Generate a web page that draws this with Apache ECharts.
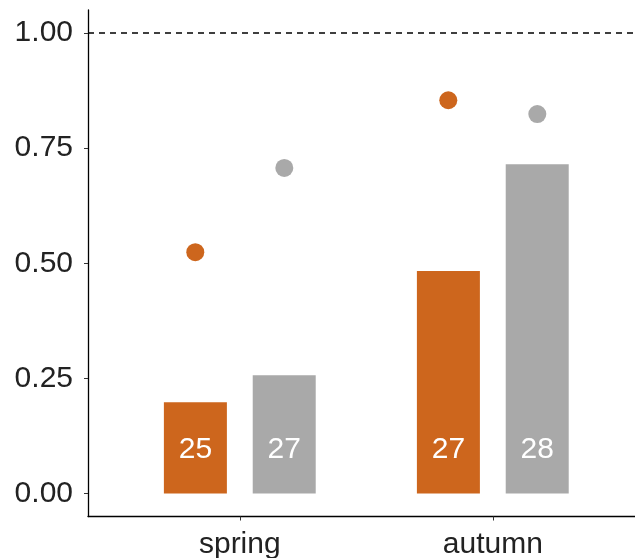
<!DOCTYPE html>
<html><head><meta charset="utf-8">
<script src="https://cdn.jsdelivr.net/npm/echarts@6/dist/echarts.min.js"></script>
<style>html,body{margin:0;padding:0;background:#fff}#c{width:635px;height:558px}</style>
</head><body><div id="c"></div>
<script>
const categories = ['spring', 'autumn'];
const barOrange = [0.198, 0.483];
const barGray = [0.257, 0.715];
const pointOrange = [0.524, 0.854];
const pointGray = [0.707, 0.824];
const countOrange = [25, 27];
const countGray = [27, 28];
const yTicks = [0, 0.25, 0.5, 0.75, 1.0];
const refLine = 1.0;

const ORANGE = '#CD661D', GRAY = '#A9A9A9';
const xPos = categories.map((c, i) => i + 1);
const font = 'Liberation Sans, Arial, sans-serif';

const barSeries = (vals, counts, color) => ({
  type: 'bar', barWidth: 63, barGap: '41%',
  data: vals.map((v, i) => ({ value: [xPos[i], v], label: { formatter: String(counts[i]) } })),
  itemStyle: { color },
  label: { show: true, position: 'insideBottom', distance: 29, color: '#fff', fontSize: 30, fontFamily: font }
});
const pointSeries = (vals, color, off) => ({
  type: 'scatter', symbol: 'circle', symbolSize: 18, symbolOffset: [off, 0],
  data: vals.map((v, i) => [xPos[i], v]),
  itemStyle: { color, opacity: 1 }
});

const chart = echarts.init(document.getElementById('c'), null, { renderer: 'canvas' });
chart.setOption({
  animation: false,
  grid: { left: 88, top: 10, right: 0, height: 506.5, containLabel: false, outerBoundsMode: 'none' },
  xAxis: {
    type: 'value', min: 0.4, max: 2.562,
    splitLine: { show: false },
    axisLine: { show: true, onZero: false, lineStyle: { color: '#000', width: 1.3 } },
    axisTick: { show: true, customValues: xPos, length: 4, lineStyle: { color: '#333' } },
    axisLabel: { customValues: xPos, formatter: v => categories[Math.round(v) - 1] || '', fontSize: 30, color: '#222', fontFamily: font, margin: 13 }
  },
  yAxis: {
    type: 'value', min: -0.05, max: 1.05,
    splitLine: { show: false },
    axisLine: { show: true, onZero: false, lineStyle: { color: '#000', width: 1.3 } },
    axisTick: { show: true, customValues: yTicks, length: 4, lineStyle: { color: '#333' } },
    axisLabel: { customValues: yTicks, formatter: v => v.toFixed(2), fontSize: 30, color: '#222', fontFamily: font, margin: 15 }
  },
  series: [
    Object.assign(barSeries(barOrange, countOrange, ORANGE), {
      markLine: { silent: true, symbol: 'none', label: { show: false },
        lineStyle: { color: '#000', type: [6, 5], width: 1.5 }, data: [{ yAxis: refLine }] }
    }),
    barSeries(barGray, countGray, GRAY),
    pointSeries(pointOrange, ORANGE, -44.5),
    pointSeries(pointGray, GRAY, 44.5)
  ]
});
</script></body></html>
